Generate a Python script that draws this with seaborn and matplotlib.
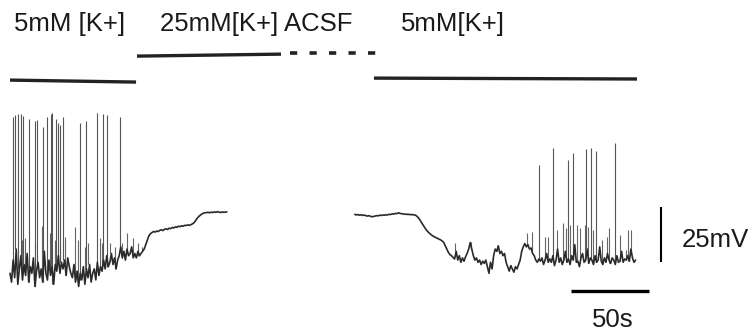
import numpy as np
import matplotlib
matplotlib.use("Agg")
import matplotlib.pyplot as plt
import seaborn as sns

# ---- recording, 1 sample per second, membrane potential in mV ----
seg1_start = 0
seg1_mv = [
    -66, -70, -60, -68, -55, -71, -64, -58, -69, -62,
    -67, -57, -70, -63, -66, -59, -72, -65, -61, -68,
    -64, -70, -56, -66, -69, -60, -67, -63, -71, -62,
    -65, -58, -66, -61, -64, -60, -67, -59, -63, -66,
    -68, -62, -70, -65, -72, -66, -69, -63, -71, -64,
    -68, -62, -70, -66, -64, -69, -61, -67, -63, -65,
    -60, -64, -58, -63, -61, -57, -62, -59, -64, -60,
    -58, -54, -59, -56, -60, -55, -58, -57, -54, -59,
    -57, -59, -56, -58, -57, -56,
    -55, -53, -51, -49, -48, -47.5, -47,
    -47.3, -46.8, -47, -46.5, -46.2, -46.6, -46, -45.8, -46.1, -45.5,
    -45.7, -45.2, -45.4, -44.9, -45.1, -44.6, -44.8, -44.4, -44.6, -44.2,
    -44.3, -44.0, -44.2, -43.9,
    -43.5, -43, -42, -41, -40.2, -39.6, -39, -38.7, -38.5, -38.4, -38.3, -38.5,
    -38.2, -38.4, -38.1, -38.3, -38.0, -38.2, -38.4, -38.1, -38.3, -38.2, -38.1,
]
seg1_spike_t = [1.7, 3.4, 5.3, 6.9, 8.1, 12.0, 15.8, 17.1, 21.0, 23.7, 26.1,
                27.1, 29.5, 31.0, 32.1, 34.2, 45.1, 48.7, 55.6, 59.8, 62.4, 70.7]
seg1_spike_mv = [4.9, 5.9, 6.4, 6.4, 5.5, 4.0, 3.3, 3.6, 0.6, 4.9, 6.4,
                 6.7, 4.1, 2.4, 1.4, 4.9, 2.1, 3.3, 6.7, 6.4, 6.0, 4.9]
# small synaptic events riding on the baseline
seg1_psp_t = [7.5, 9.6, 16.0, 20.3, 25.6, 28.8, 32.1, 35.3, 41.7, 43.8, 48.1,
              50.2, 57.7, 58.8, 64.1, 67.3, 71.6, 74.8, 79.1, 82.3, 84.4]
seg1_psp_mv = [-50.9, -50, -52.3, -44.5, -47.7, -50.9, -51.8, -49.5, -45, -50.9,
               -54.1, -52.3, -50, -52.3, -52.3, -54.1, -52.3, -47.7, -50, -52.3,
               -54.1]

seg2_start = 221
seg2_mv = [
    -39.2, -39.5, -39.3, -39.6, -39.4, -39.7, -39.5, -39.8, -40.0, -39.8,
    -40.1, -40.3, -40.2, -40.0, -39.8, -39.9, -39.6, -39.7, -39.5, -39.6,
    -39.4, -39.5, -39.2, -39.3, -39.0, -39.1, -38.8, -38.9, -38.5, -38.8,
    -38.9, -39.0, -39.2, -39.1, -39.3, -39.2, -39.4, -39.3, -39.5,
    -39.6, -40.2, -41.0, -42.0, -43.2, -44.3, -45.4, -46.4, -47.2, -47.9, -48.5,
    -49.0, -49.4, -49.8, -50.1, -50.5, -50.8, -51.3, -52.0, -53.5, -55.0,
    -56.5, -57.5, -58.0, -58.8, -59.5,
    -56, -60, -58, -61, -59, -60.5, -58.5, -57, -55, -52,
    -55, -58, -60, -59, -61, -60, -62, -60.5, -61.5, -60,
    -63, -66, -61, -64, -58, -55, -56, -53.5, -57, -56,
    -58, -57, -61, -63, -65, -62.5, -64, -65.5, -63, -64,
    -62, -60, -56, -54, -52.5, -54, -53, -55, -54.5, -57,
    -58, -60, -61, -59.5, -60.5, -59, -62, -60, -57, -61,
    -59.5, -61, -58, -62.5, -60, -55, -61, -59, -62, -60,
    -56, -61, -59.5, -62, -58, -60, -53, -61, -60.5, -63,
    -59, -57, -61, -60, -55, -61.5, -59, -60, -62, -58,
    -61, -60, -54, -60.5, -62, -59, -61, -57, -60, -61.5,
    -59, -60, -62, -58, -61, -60.5, -56, -61, -59.5, -60,
    -58, -60.5, -55, -59, -61, -60,
]
seg2_spike_t = [338.9, 347.9, 357.9, 360.7, 369.4, 372.4, 375.6, 387.6]
seg2_spike_mv = [-16.8, -9.2, -14.5, -11.2, -9.7, -9.2, -10.3, -6.7]
seg2_psp_t = [285.3, 295.5, 312, 331.2, 334.4, 343, 345.1, 350.4, 354.3, 356.4,
              359, 363.7, 365.4, 368.6, 370.7, 373.9, 379.3, 382.5, 384.2, 391,
              394.9, 396.4, 397.9]
seg2_psp_mv = [-52.4, -51.7, -54, -47.9, -47.1, -49.4, -49.4, -46.4, -43.3, -45.6,
               -44.1, -44.1, -45.6, -44.1, -44.8, -46.4, -50.9, -49.4, -45.6, -48.6,
               -55.5, -46.4, -46.4]

# ---- solution bars (time in s, level in mV units of the plot) ----
bar_labels = ["5mM [K+]", "25mM[K+] ACSF", "5mM[K+]"]
bar_label_t = [2.6, 96.2, 250.6]
solid_bars_t = [(0, 80.8), (81.4, 173.7), (233.3, 401.9)]
solid_bars_y = [(21.8, 20.9), (32.7, 33.6), (22.7, 22.3)]
washout_t = (179.5, 234.6)
washout_y = 34.1

# ---- scale bars ----
time_bar = 50      # s
volt_bar = 25      # mV


def trace_with_spikes(ax, start, mv, spike_t, spike_mv, psp_t, psp_mv):
    t = start + np.arange(len(mv))
    mv = np.asarray(mv, dtype=float)
    # events: vertical strokes from the baseline sample under them
    idx = np.clip(np.searchsorted(t, psp_t), 0, len(t) - 1)
    ax.vlines(psp_t, mv[idx], psp_mv, color="#666666", lw=0.8)
    idx = np.clip(np.searchsorted(t, spike_t), 0, len(t) - 1)
    ax.vlines(spike_t, mv[idx], spike_mv, color="#555555", lw=0.8)
    sns.lineplot(x=t, y=mv, ax=ax, color="#2a2a2a", lw=1.2,
                 sort=False, estimator=None)


sns.set_theme(style="white")
plt.rcParams['font.family'] = ['Liberation Sans', 'DejaVu Sans']

fig = plt.figure(figsize=(7.54, 3.36), dpi=100)
ax = fig.add_axes([0, 0, 1, 1])

trace_with_spikes(ax, seg1_start, seg1_mv, seg1_spike_t, seg1_spike_mv,
                  seg1_psp_t, seg1_psp_mv)
trace_with_spikes(ax, seg2_start, seg2_mv, seg2_spike_t, seg2_spike_mv,
                  seg2_psp_t, seg2_psp_mv)

for (t0, t1), (y0, y1) in zip(solid_bars_t, solid_bars_y):
    ax.plot([t0, t1], [y0, y1], color="#222222", lw=2.4, solid_capstyle="butt")
ax.plot(washout_t, [washout_y, washout_y], color="#222222", lw=2.6,
        linestyle=(0, (2, 3.4)), dash_capstyle="butt")

text_kw = dict(fontsize=18.5, color="#1a1a1a", va="center")
for lab, t in zip(bar_labels, bar_label_t):
    ax.text(t, 47.5, lab, ha="left", **text_kw)

# scale bars
ax.plot([359.6, 359.6 + time_bar], [-74.1, -74.1], color="black", lw=2.4,
        solid_capstyle="butt")
ax.plot([417.3, 417.3], [-60.9, -60.9 + volt_bar], color="black", lw=1.5,
        solid_capstyle="butt")
ax.text(430.8, -50.9, f"{volt_bar}mV", ha="left", **text_kw)
ax.text(386.5, -87.3, f"{time_bar}s", ha="center", **text_kw)

ax.set_xlim(-6.41, 476.9)
ax.set_ylim(-94.5, 58.2)
ax.set_axis_off()

fig.savefig("out.png", dpi=100)
plt.close(fig)
